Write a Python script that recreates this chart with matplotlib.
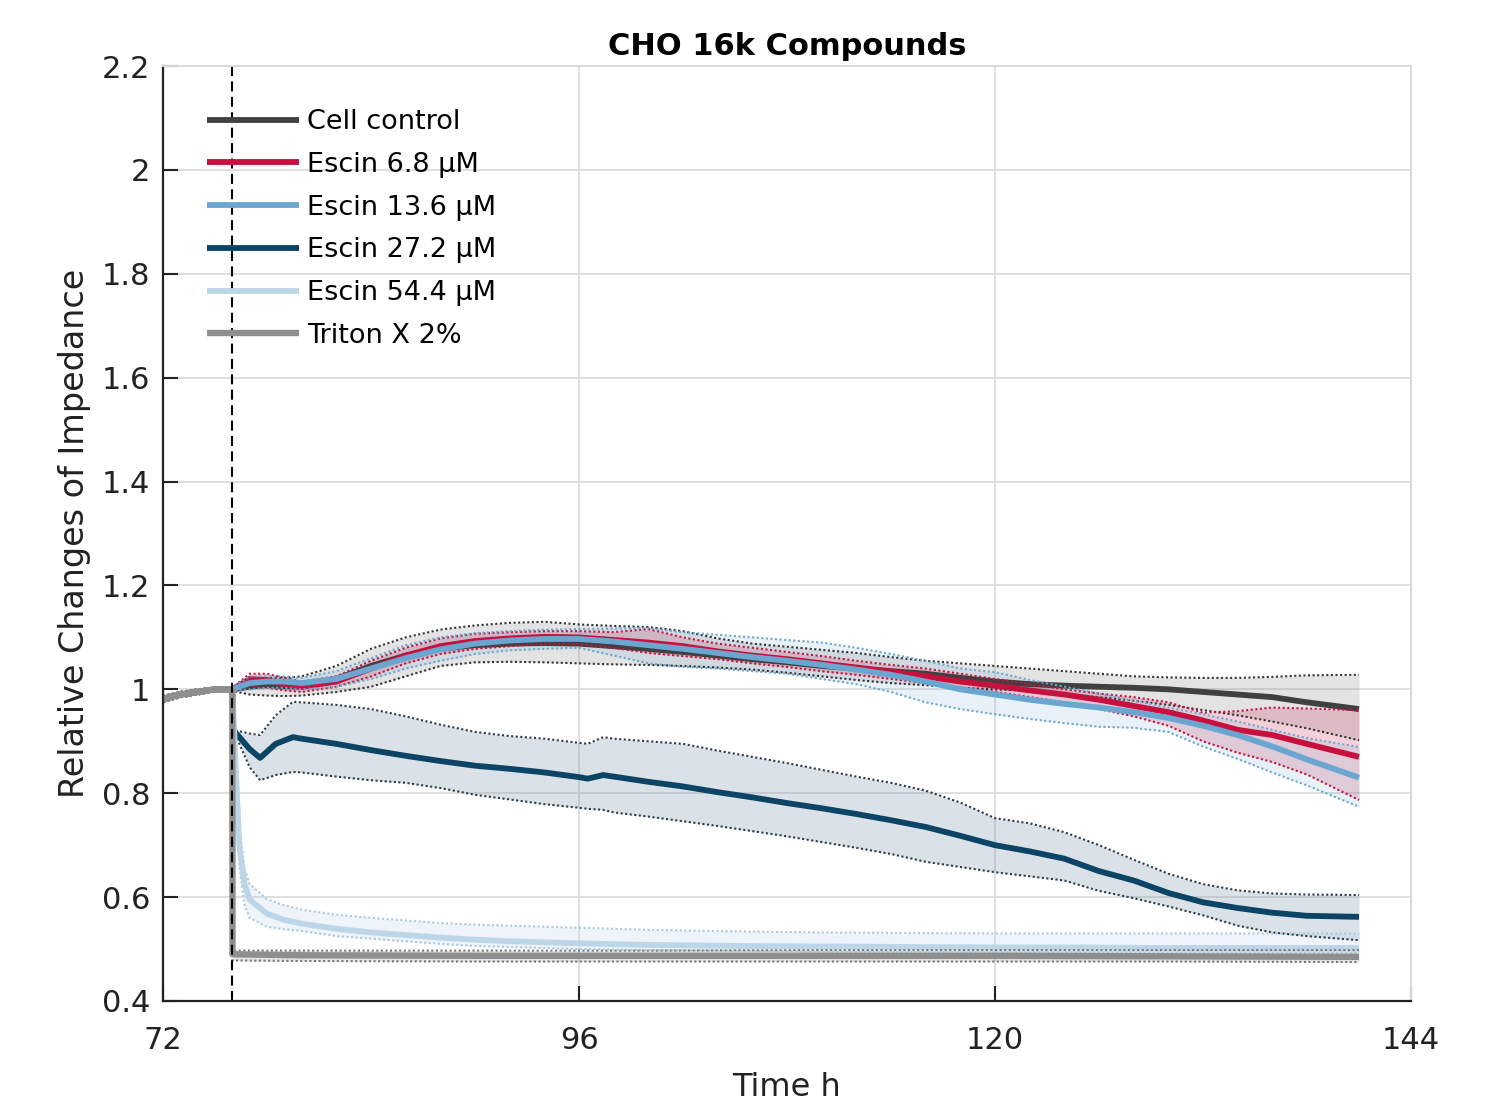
import matplotlib
matplotlib.use("Agg")
import matplotlib.pyplot as plt
import numpy as np

plt.rcParams['font.family'] = ['DejaVu Sans']

# ---- data -------------------------------------------------------------
title = "CHO 16k Compounds"
x_label = "Time h"
y_label = "Relative Changes of Impedance"
x_ticks = [72, 96, 120, 144]
y_ticks = [0.4, 0.6, 0.8, 1.0, 1.2, 1.4, 1.6, 1.8, 2.0, 2.2]
y_tick_labels = ["0.4", "0.6", "0.8", "1", "1.2", "1.4", "1.6", "1.8", "2", "2.2"]
treatment_time = 76

names = ["Cell control", "Escin 6.8 \u00b5M", "Escin 13.6 \u00b5M",
         "Escin 27.2 \u00b5M", "Escin 54.4 \u00b5M", "Triton X 2%"]

# shared baseline before treatment
pre_t = [72, 73, 74, 75, 76]
pre_mean = [0.982, 0.990, 0.995, 1.000, 1.000]
pre_hi = [0.987, 0.995, 1.000, 1.003, 1.003]
pre_lo = [0.975, 0.985, 0.990, 0.997, 0.997]

grid_t = [77, 78, 79, 80, 82, 84, 86, 88, 90, 92, 94, 96, 98, 100, 102, 104,
          106, 108, 110, 112, 114, 116, 118, 120, 122, 124, 126, 128, 130,
          132, 134, 136, 138, 141]

ctrl_mean = [1.005, 1.008, 1.006, 1.005, 1.020, 1.045, 1.065, 1.078, 1.085, 1.088,
             1.089, 1.088, 1.083, 1.078, 1.072, 1.065, 1.058, 1.052, 1.045, 1.040,
             1.035, 1.030, 1.022, 1.015, 1.010, 1.007, 1.005, 1.003, 1.000, 0.995,
             0.990, 0.985, 0.975, 0.962]
ctrl_hi = [1.020, 1.022, 1.022, 1.025, 1.045, 1.078, 1.100, 1.115, 1.123, 1.128,
           1.130, 1.125, 1.122, 1.120, 1.112, 1.098, 1.088, 1.082, 1.076, 1.070,
           1.062, 1.055, 1.050, 1.045, 1.040, 1.035, 1.030, 1.025, 1.023, 1.022,
           1.022, 1.024, 1.027, 1.028]
ctrl_lo = [0.990, 0.988, 0.987, 0.988, 0.995, 1.005, 1.025, 1.045, 1.052, 1.053,
           1.052, 1.050, 1.048, 1.047, 1.045, 1.042, 1.038, 1.032, 1.025, 1.018,
           1.012, 1.008, 1.003, 1.000, 0.997, 0.990, 0.985, 0.978, 0.970, 0.960,
           0.950, 0.938, 0.925, 0.902]

e68_mean = [1.020, 1.018, 1.010, 1.005, 1.015, 1.040, 1.065, 1.083, 1.093, 1.098,
            1.101, 1.100, 1.095, 1.090, 1.083, 1.073, 1.065, 1.058, 1.050, 1.042,
            1.034, 1.025, 1.015, 1.007, 0.998, 0.990, 0.980, 0.968, 0.956, 0.940,
            0.922, 0.912, 0.895, 0.870]
e68_hi = [1.030, 1.030, 1.022, 1.015, 1.025, 1.055, 1.080, 1.098, 1.107, 1.110,
          1.112, 1.112, 1.110, 1.116, 1.100, 1.088, 1.080, 1.072, 1.064, 1.055,
          1.047, 1.040, 1.030, 1.020, 1.010, 1.000, 0.992, 0.985, 0.975, 0.955,
          0.958, 0.965, 0.963, 0.960]
e68_lo = [1.005, 1.003, 0.998, 0.995, 1.005, 1.025, 1.050, 1.068, 1.078, 1.083,
          1.088, 1.087, 1.080, 1.070, 1.064, 1.058, 1.050, 1.043, 1.035, 1.028,
          1.020, 1.012, 1.003, 0.995, 0.985, 0.975, 0.962, 0.948, 0.930, 0.900,
          0.878, 0.860, 0.836, 0.787]

e136_mean = [1.012, 1.015, 1.015, 1.012, 1.020, 1.040, 1.060, 1.077, 1.088, 1.094,
             1.097, 1.097, 1.092, 1.085, 1.078, 1.070, 1.062, 1.055, 1.047, 1.038,
             1.028, 1.015, 1.000, 0.990, 0.980, 0.972, 0.965, 0.956, 0.945, 0.930,
             0.912, 0.890, 0.865, 0.830]
e136_hi = [1.025, 1.025, 1.025, 1.022, 1.035, 1.060, 1.085, 1.100, 1.108, 1.112,
           1.115, 1.116, 1.117, 1.118, 1.110, 1.105, 1.100, 1.095, 1.090, 1.080,
           1.068, 1.055, 1.040, 1.033, 1.018, 1.005, 0.992, 0.978, 0.965, 0.952,
           0.938, 0.922, 0.906, 0.889]
e136_lo = [1.000, 1.003, 1.003, 1.000, 1.005, 1.020, 1.040, 1.055, 1.068, 1.075,
           1.078, 1.080, 1.065, 1.050, 1.043, 1.040, 1.035, 1.030, 1.020, 1.010,
           0.995, 0.975, 0.962, 0.952, 0.943, 0.935, 0.928, 0.926, 0.918, 0.890,
           0.866, 0.840, 0.815, 0.774]

e272_t = [76.05, 77, 77.6, 78.5, 79.5, 80, 82, 84, 86, 88, 90, 92, 94, 96, 96.5,
          97.4, 98, 100, 102, 104, 106, 108, 110, 112, 114, 116, 118, 120, 122,
          124, 126, 128, 130, 132, 134, 136, 138, 141]
e272_mean = [0.922, 0.885, 0.868, 0.895, 0.908, 0.905, 0.895, 0.883, 0.872, 0.862,
             0.853, 0.847, 0.840, 0.831, 0.828, 0.835, 0.832, 0.822, 0.813, 0.802,
             0.792, 0.781, 0.771, 0.760, 0.748, 0.735, 0.718, 0.700, 0.688, 0.674,
             0.650, 0.632, 0.608, 0.590, 0.579, 0.570, 0.564, 0.562]
e272_hi = [0.922, 0.915, 0.912, 0.950, 0.976, 0.975, 0.970, 0.962, 0.948, 0.932,
           0.918, 0.910, 0.905, 0.897, 0.895, 0.908, 0.905, 0.900, 0.895, 0.882,
           0.870, 0.858, 0.845, 0.832, 0.820, 0.805, 0.782, 0.752, 0.742, 0.725,
           0.700, 0.672, 0.645, 0.625, 0.613, 0.607, 0.605, 0.604]
e272_lo = [0.922, 0.850, 0.825, 0.835, 0.841, 0.840, 0.832, 0.825, 0.820, 0.810,
           0.797, 0.788, 0.779, 0.772, 0.770, 0.768, 0.763, 0.755, 0.746, 0.737,
           0.727, 0.717, 0.706, 0.695, 0.683, 0.668, 0.658, 0.648, 0.640, 0.632,
           0.612, 0.598, 0.582, 0.565, 0.545, 0.532, 0.525, 0.517]

e544_t = [76.2, 76.4, 76.7, 77, 78, 79, 80, 82, 84, 86, 88, 90, 92, 94, 96, 100,
          105, 110, 115, 120, 125, 130, 135, 141]
e544_mean = [0.850, 0.700, 0.625, 0.595, 0.568, 0.556, 0.549, 0.539, 0.532, 0.527,
             0.522, 0.518, 0.515, 0.513, 0.511, 0.508, 0.506, 0.505, 0.504, 0.503,
             0.503, 0.502, 0.502, 0.502]
e544_hi = [0.870, 0.740, 0.655, 0.625, 0.596, 0.584, 0.576, 0.566, 0.560, 0.555,
           0.550, 0.547, 0.545, 0.543, 0.541, 0.537, 0.534, 0.532, 0.531, 0.530,
           0.530, 0.530, 0.530, 0.530]
e544_lo = [0.830, 0.660, 0.585, 0.560, 0.543, 0.538, 0.535, 0.525, 0.520, 0.515,
           0.510, 0.506, 0.504, 0.502, 0.500, 0.498, 0.497, 0.495, 0.494, 0.493,
           0.493, 0.492, 0.492, 0.492]

triton_t = [76.01, 80, 90, 100, 110, 120, 130, 141]
triton_mean = [0.490, 0.488, 0.487, 0.487, 0.487, 0.487, 0.486, 0.485]
triton_hi = [0.497, 0.497, 0.497, 0.497, 0.498, 0.498, 0.498, 0.498]
triton_lo = [0.478, 0.477, 0.476, 0.476, 0.476, 0.476, 0.476, 0.475]

line_colors = ["#404040", "#c8103f", "#6aa6cf", "#0c4466", "#bcd6e8", "#8e8e8e"]
fill_colors = ["#808080", "#d0305a", "#6aa6cf", "#6f8ca3", "#bcd6e8", "#808080"]
fill_alphas = [0.22, 0.22, 0.15, 0.25, 0.25, 0.2]
edge_colors = ["#333333", "#c8103f", "#6aa6cf", "#2b3a4a", "#a9c8de", "#777777"]
line_widths = [4.2, 4.2, 4.2, 4.2, 4.2, 4.6]

series = [
    (grid_t, ctrl_mean, ctrl_lo, ctrl_hi),
    (grid_t, e68_mean, e68_lo, e68_hi),
    (grid_t, e136_mean, e136_lo, e136_hi),
    (e272_t, e272_mean, e272_lo, e272_hi),
    (e544_t, e544_mean, e544_lo, e544_hi),
    (triton_t, triton_mean, triton_lo, triton_hi),
]

# ---- figure -----------------------------------------------------------
fig = plt.figure(figsize=(14.97, 11.07), dpi=100)
ax = fig.add_axes([163 / 1497, 1 - 1001 / 1107, 1248 / 1497, 935 / 1107])

ax.set_xlim(72, 144)
ax.set_ylim(0.4, 2.2)
ax.set_xticks(x_ticks)
ax.set_yticks(y_ticks)
ax.set_yticklabels(y_tick_labels)
ax.grid(True, color="#dadada", linewidth=1.2)
ax.set_axisbelow(True)
ax.tick_params(direction="in", length=11, width=1.5, labelsize=22,
               colors="#222222")
ax.tick_params(axis="x", pad=18)
ax.tick_params(axis="y", pad=9)
for side in ("left", "bottom"):
    ax.spines[side].set_color("#222222")
    ax.spines[side].set_linewidth(1.6)
for side in ("top", "right"):
    ax.spines[side].set_color("#dadada")
    ax.spines[side].set_linewidth(1.4)

handles = []
for (t, m, lo, hi), name, lc, fc, fa, ec, lw in zip(series, names, line_colors,
                                                     fill_colors, fill_alphas,
                                                     edge_colors, line_widths):
    tt = np.array(pre_t + list(t))
    mm = np.array(pre_mean + list(m))
    ll = np.array(pre_lo + list(lo))
    hh = np.array(pre_hi + list(hi))
    ax.fill_between(tt, ll, hh, color=fc, alpha=fa, linewidth=0)
    ax.plot(tt, ll, color=ec, linestyle=(0, (1, 1.2)), linewidth=1.5)
    ax.plot(tt, hh, color=ec, linestyle=(0, (1, 1.2)), linewidth=1.5)
    h, = ax.plot(tt, mm, color=lc, linewidth=lw, label=name,
                 solid_joinstyle="round", solid_capstyle="butt")
    handles.append(h)

vline = ax.axvline(treatment_time, color="black", linewidth=1.5)
vline.set_dashes((4.8, 2.6))

ax.set_title(title, fontsize=22, fontweight="bold", pad=8)
ax.set_xlabel(x_label, fontsize=23, color="#222222", labelpad=12)
ax.set_ylabel(y_label, fontsize=24, color="#222222", labelpad=8)

fig.legend(handles=handles, loc="upper left",
           bbox_to_anchor=(207 / 1497, 1 - 109 / 1107),
           frameon=False, fontsize=19.5, handlelength=3.4, handletextpad=0.3,
           labelspacing=0.62, borderpad=0, borderaxespad=0)

fig.savefig("out.png", dpi=100, facecolor="white")
